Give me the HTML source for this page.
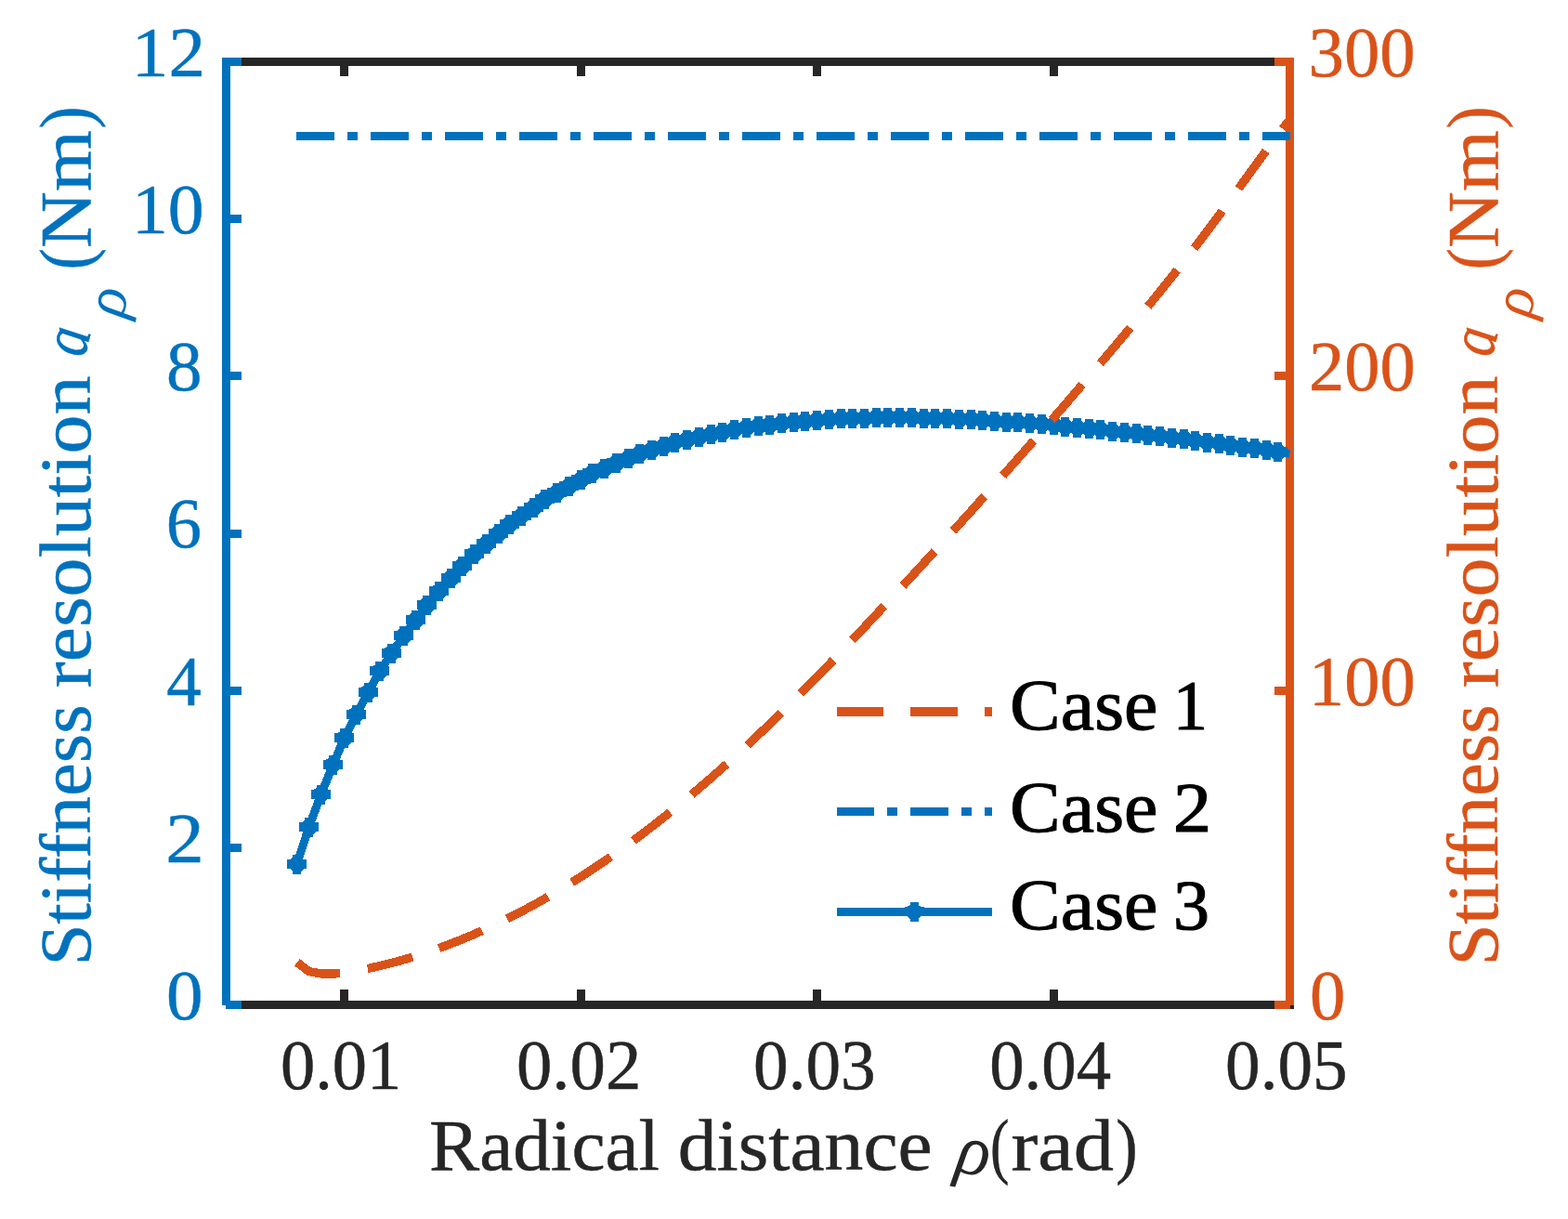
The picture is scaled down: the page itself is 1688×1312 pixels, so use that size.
<!DOCTYPE html>
<html lang="en"><head><meta charset="utf-8"><title>Stiffness resolution vs radical distance</title>
<style>html,body{margin:0;padding:0;background:#fff;}body{width:1688px;height:1312px;overflow:hidden;}svg{display:block;}text{font-family:"Liberation Serif","DejaVu Serif",serif;stroke-linejoin:round;}</style>
</head><body>
<svg width="1688" height="1312" viewBox="0 0 1688 1312">
<rect width="1688" height="1312" fill="#fff"/>
<g shape-rendering="crispEdges">
<rect x="248" y="62" width="1136" height="9" fill="#262626"/>
<rect x="248" y="1077" width="1141" height="9" fill="#262626"/>
<rect x="366" y="71" width="9" height="11" fill="#262626"/>
<rect x="366" y="1065" width="9" height="12" fill="#262626"/>
<rect x="621" y="71" width="9" height="11" fill="#262626"/>
<rect x="621" y="1065" width="9" height="12" fill="#262626"/>
<rect x="875" y="71" width="9" height="11" fill="#262626"/>
<rect x="875" y="1065" width="9" height="12" fill="#262626"/>
<rect x="1130" y="71" width="9" height="11" fill="#262626"/>
<rect x="1130" y="1065" width="9" height="12" fill="#262626"/>
<rect x="1384" y="62" width="9" height="1024" fill="#D95319"/>
<rect x="1372" y="1077" width="17" height="9" fill="#D95319"/>
<rect x="1372" y="739" width="17" height="9" fill="#D95319"/>
<rect x="1372" y="400" width="17" height="9" fill="#D95319"/>
<rect x="1372" y="62" width="17" height="9" fill="#D95319"/>
<rect x="1372" y="62" width="21" height="9" fill="#D95319"/>
<rect x="1389" y="1082" width="4" height="4" fill="#262626"/>
<rect x="239" y="62" width="9" height="1020" fill="#0072BD"/>
<rect x="243" y="1077" width="17" height="9" fill="#0072BD"/>
<rect x="243" y="908" width="17" height="9" fill="#0072BD"/>
<rect x="243" y="739" width="17" height="9" fill="#0072BD"/>
<rect x="243" y="570" width="17" height="9" fill="#0072BD"/>
<rect x="243" y="400" width="17" height="9" fill="#0072BD"/>
<rect x="243" y="231" width="17" height="9" fill="#0072BD"/>
<rect x="243" y="62" width="17" height="9" fill="#0072BD"/>
</g>
<defs><clipPath id="plotclip"><rect x="239" y="62" width="1150" height="1024"/></clipPath></defs>
<g clip-path="url(#plotclip)" shape-rendering="crispEdges">
<polyline fill="none" stroke="#0072BD" stroke-width="9" stroke-linejoin="round" points="319.5,930.5 332.5,890.5 345.5,855.2 358.5,823.2 370.5,794.7 383.5,769 396.5,745.3 408.5,722.9 421.5,703.3 434.5,684.5 447.5,667.6 459.5,651.6 472.5,636.8 485.5,622.6 497.5,609.5 510.5,596.7 523.5,585.5 536.5,574.5 548.5,564.6 561.5,555.4 574.5,546.6 586.5,537.6 599.5,530.5 612.5,523.6 625.5,516.6 637.5,509.5 650.5,504.5 663.5,498.5 676.5,493.5 688.5,488.6 701.5,484.5 714.5,480.5 726.5,476.4 739.5,473.5 752.5,470.5 765.5,467.5 777.5,465.5 790.5,462.6 803.5,460.5 816.5,458.5 828.5,457.6 841.5,455.6 854.5,454.5 866.5,453.6 879.5,452.6 892.5,451.5 905.5,450.6 917.5,450.5 930.5,450.5 943.5,449.5 955.5,449.5 968.5,449.5 981.5,449.5 994.5,450.5 1006.5,450.5 1019.5,450.5 1032.5,451.5 1045.5,451.5 1057.5,452.5 1070.5,453.5 1083.5,454.5 1095.5,454.5 1108.5,455.5 1121.5,456.5 1134.5,457.5 1146.5,459.5 1159.5,460.5 1172.5,461.5 1184.5,462.5 1197.5,464.5 1210.5,465.5 1223.5,466.5 1235.5,468.5 1248.5,469.5 1261.5,471.5 1274.5,472.5 1286.5,474.4 1299.5,476.4 1312.5,477.5 1324.5,479.5 1337.5,481.5 1350.5,482.5 1363.5,484.5 1375.5,486.6 1388.5,488.3"/>
<path fill="#0072BD" d="M315,920 L324,920 L324,923 L327,925 L330,925 L330,935 L327,935 L324,938 L324,941 L315,941 L315,938 L312,935 L309,935 L309,925 L312,925 L315,923Z M328,880 L337,880 L337,883 L340,885 L343,885 L343,895 L340,895 L337,898 L337,901 L328,901 L328,898 L325,895 L322,895 L322,885 L325,885 L328,883Z M341,844.7 L350,844.7 L350,847.7 L353,849.7 L356,849.7 L356,859.7 L353,859.7 L350,862.7 L350,865.7 L341,865.7 L341,862.7 L338,859.7 L335,859.7 L335,849.7 L338,849.7 L341,847.7Z M354,812.7 L363,812.7 L363,815.7 L366,817.7 L369,817.7 L369,827.7 L366,827.7 L363,830.7 L363,833.7 L354,833.7 L354,830.7 L351,827.7 L348,827.7 L348,817.7 L351,817.7 L354,815.7Z M366,784.2 L375,784.2 L375,787.2 L378,789.2 L381,789.2 L381,799.2 L378,799.2 L375,802.2 L375,805.2 L366,805.2 L366,802.2 L363,799.2 L360,799.2 L360,789.2 L363,789.2 L366,787.2Z M379,758.5 L388,758.5 L388,761.5 L391,763.5 L394,763.5 L394,773.5 L391,773.5 L388,776.5 L388,779.5 L379,779.5 L379,776.5 L376,773.5 L373,773.5 L373,763.5 L376,763.5 L379,761.5Z M392,734.8 L401,734.8 L401,737.8 L404,739.8 L407,739.8 L407,749.8 L404,749.8 L401,752.8 L401,755.8 L392,755.8 L392,752.8 L389,749.8 L386,749.8 L386,739.8 L389,739.8 L392,737.8Z M404,712.4 L413,712.4 L413,715.4 L416,717.4 L419,717.4 L419,727.4 L416,727.4 L413,730.4 L413,733.4 L404,733.4 L404,730.4 L401,727.4 L398,727.4 L398,717.4 L401,717.4 L404,715.4Z M417,692.8 L426,692.8 L426,695.8 L429,697.8 L432,697.8 L432,707.8 L429,707.8 L426,710.8 L426,713.8 L417,713.8 L417,710.8 L414,707.8 L411,707.8 L411,697.8 L414,697.8 L417,695.8Z M430,674 L439,674 L439,677 L442,679 L445,679 L445,689 L442,689 L439,692 L439,695 L430,695 L430,692 L427,689 L424,689 L424,679 L427,679 L430,677Z M443,657.1 L452,657.1 L452,660.1 L455,662.1 L458,662.1 L458,672.1 L455,672.1 L452,675.1 L452,678.1 L443,678.1 L443,675.1 L440,672.1 L437,672.1 L437,662.1 L440,662.1 L443,660.1Z M455,641.1 L464,641.1 L464,644.1 L467,646.1 L470,646.1 L470,656.1 L467,656.1 L464,659.1 L464,662.1 L455,662.1 L455,659.1 L452,656.1 L449,656.1 L449,646.1 L452,646.1 L455,644.1Z M468,626.3 L477,626.3 L477,629.3 L480,631.3 L483,631.3 L483,641.3 L480,641.3 L477,644.3 L477,647.3 L468,647.3 L468,644.3 L465,641.3 L462,641.3 L462,631.3 L465,631.3 L468,629.3Z M481,612.1 L490,612.1 L490,615.1 L493,617.1 L496,617.1 L496,627.1 L493,627.1 L490,630.1 L490,633.1 L481,633.1 L481,630.1 L478,627.1 L475,627.1 L475,617.1 L478,617.1 L481,615.1Z M493,599 L502,599 L502,602 L505,604 L508,604 L508,614 L505,614 L502,617 L502,620 L493,620 L493,617 L490,614 L487,614 L487,604 L490,604 L493,602Z M506,586.2 L515,586.2 L515,589.2 L518,591.2 L521,591.2 L521,601.2 L518,601.2 L515,604.2 L515,607.2 L506,607.2 L506,604.2 L503,601.2 L500,601.2 L500,591.2 L503,591.2 L506,589.2Z M519,575 L528,575 L528,578 L531,580 L534,580 L534,590 L531,590 L528,593 L528,596 L519,596 L519,593 L516,590 L513,590 L513,580 L516,580 L519,578Z M532,564 L541,564 L541,567 L544,569 L547,569 L547,579 L544,579 L541,582 L541,585 L532,585 L532,582 L529,579 L526,579 L526,569 L529,569 L532,567Z M544,554.1 L553,554.1 L553,557.1 L556,559.1 L559,559.1 L559,569.1 L556,569.1 L553,572.1 L553,575.1 L544,575.1 L544,572.1 L541,569.1 L538,569.1 L538,559.1 L541,559.1 L544,557.1Z M557,544.9 L566,544.9 L566,547.9 L569,549.9 L572,549.9 L572,559.9 L569,559.9 L566,562.9 L566,565.9 L557,565.9 L557,562.9 L554,559.9 L551,559.9 L551,549.9 L554,549.9 L557,547.9Z M570,536.1 L579,536.1 L579,539.1 L582,541.1 L585,541.1 L585,551.1 L582,551.1 L579,554.1 L579,557.1 L570,557.1 L570,554.1 L567,551.1 L564,551.1 L564,541.1 L567,541.1 L570,539.1Z M582,527.1 L591,527.1 L591,530.1 L594,532.1 L597,532.1 L597,542.1 L594,542.1 L591,545.1 L591,548.1 L582,548.1 L582,545.1 L579,542.1 L576,542.1 L576,532.1 L579,532.1 L582,530.1Z M595,520 L604,520 L604,523 L607,525 L610,525 L610,535 L607,535 L604,538 L604,541 L595,541 L595,538 L592,535 L589,535 L589,525 L592,525 L595,523Z M608,513.1 L617,513.1 L617,516.1 L620,518.1 L623,518.1 L623,528.1 L620,528.1 L617,531.1 L617,534.1 L608,534.1 L608,531.1 L605,528.1 L602,528.1 L602,518.1 L605,518.1 L608,516.1Z M621,506.1 L630,506.1 L630,509.1 L633,511.1 L636,511.1 L636,521.1 L633,521.1 L630,524.1 L630,527.1 L621,527.1 L621,524.1 L618,521.1 L615,521.1 L615,511.1 L618,511.1 L621,509.1Z M633,499 L642,499 L642,502 L645,504 L648,504 L648,514 L645,514 L642,517 L642,520 L633,520 L633,517 L630,514 L627,514 L627,504 L630,504 L633,502Z M646,494 L655,494 L655,497 L658,499 L661,499 L661,509 L658,509 L655,512 L655,515 L646,515 L646,512 L643,509 L640,509 L640,499 L643,499 L646,497Z M659,488 L668,488 L668,491 L671,493 L674,493 L674,503 L671,503 L668,506 L668,509 L659,509 L659,506 L656,503 L653,503 L653,493 L656,493 L659,491Z M672,483 L681,483 L681,486 L684,488 L687,488 L687,498 L684,498 L681,501 L681,504 L672,504 L672,501 L669,498 L666,498 L666,488 L669,488 L672,486Z M684,478.1 L693,478.1 L693,481.1 L696,483.1 L699,483.1 L699,493.1 L696,493.1 L693,496.1 L693,499.1 L684,499.1 L684,496.1 L681,493.1 L678,493.1 L678,483.1 L681,483.1 L684,481.1Z M697,474 L706,474 L706,477 L709,479 L712,479 L712,489 L709,489 L706,492 L706,495 L697,495 L697,492 L694,489 L691,489 L691,479 L694,479 L697,477Z M710,470 L719,470 L719,473 L722,475 L725,475 L725,485 L722,485 L719,488 L719,491 L710,491 L710,488 L707,485 L704,485 L704,475 L707,475 L710,473Z M722,465.9 L731,465.9 L731,468.9 L734,470.9 L737,470.9 L737,480.9 L734,480.9 L731,483.9 L731,486.9 L722,486.9 L722,483.9 L719,480.9 L716,480.9 L716,470.9 L719,470.9 L722,468.9Z M735,463 L744,463 L744,466 L747,468 L750,468 L750,478 L747,478 L744,481 L744,484 L735,484 L735,481 L732,478 L729,478 L729,468 L732,468 L735,466Z M748,460 L757,460 L757,463 L760,465 L763,465 L763,475 L760,475 L757,478 L757,481 L748,481 L748,478 L745,475 L742,475 L742,465 L745,465 L748,463Z M761,457 L770,457 L770,460 L773,462 L776,462 L776,472 L773,472 L770,475 L770,478 L761,478 L761,475 L758,472 L755,472 L755,462 L758,462 L761,460Z M773,455 L782,455 L782,458 L785,460 L788,460 L788,470 L785,470 L782,473 L782,476 L773,476 L773,473 L770,470 L767,470 L767,460 L770,460 L773,458Z M786,452.1 L795,452.1 L795,455.1 L798,457.1 L801,457.1 L801,467.1 L798,467.1 L795,470.1 L795,473.1 L786,473.1 L786,470.1 L783,467.1 L780,467.1 L780,457.1 L783,457.1 L786,455.1Z M799,450 L808,450 L808,453 L811,455 L814,455 L814,465 L811,465 L808,468 L808,471 L799,471 L799,468 L796,465 L793,465 L793,455 L796,455 L799,453Z M812,448 L821,448 L821,451 L824,453 L827,453 L827,463 L824,463 L821,466 L821,469 L812,469 L812,466 L809,463 L806,463 L806,453 L809,453 L812,451Z M824,447.1 L833,447.1 L833,450.1 L836,452.1 L839,452.1 L839,462.1 L836,462.1 L833,465.1 L833,468.1 L824,468.1 L824,465.1 L821,462.1 L818,462.1 L818,452.1 L821,452.1 L824,450.1Z M837,445.1 L846,445.1 L846,448.1 L849,450.1 L852,450.1 L852,460.1 L849,460.1 L846,463.1 L846,466.1 L837,466.1 L837,463.1 L834,460.1 L831,460.1 L831,450.1 L834,450.1 L837,448.1Z M850,444 L859,444 L859,447 L862,449 L865,449 L865,459 L862,459 L859,462 L859,465 L850,465 L850,462 L847,459 L844,459 L844,449 L847,449 L850,447Z M862,443.1 L871,443.1 L871,446.1 L874,448.1 L877,448.1 L877,458.1 L874,458.1 L871,461.1 L871,464.1 L862,464.1 L862,461.1 L859,458.1 L856,458.1 L856,448.1 L859,448.1 L862,446.1Z M875,442.1 L884,442.1 L884,445.1 L887,447.1 L890,447.1 L890,457.1 L887,457.1 L884,460.1 L884,463.1 L875,463.1 L875,460.1 L872,457.1 L869,457.1 L869,447.1 L872,447.1 L875,445.1Z M888,441 L897,441 L897,444 L900,446 L903,446 L903,456 L900,456 L897,459 L897,462 L888,462 L888,459 L885,456 L882,456 L882,446 L885,446 L888,444Z M901,440.1 L910,440.1 L910,443.1 L913,445.1 L916,445.1 L916,455.1 L913,455.1 L910,458.1 L910,461.1 L901,461.1 L901,458.1 L898,455.1 L895,455.1 L895,445.1 L898,445.1 L901,443.1Z M913,440 L922,440 L922,443 L925,445 L928,445 L928,455 L925,455 L922,458 L922,461 L913,461 L913,458 L910,455 L907,455 L907,445 L910,445 L913,443Z M926,440 L935,440 L935,443 L938,445 L941,445 L941,455 L938,455 L935,458 L935,461 L926,461 L926,458 L923,455 L920,455 L920,445 L923,445 L926,443Z M939,439 L948,439 L948,442 L951,444 L954,444 L954,454 L951,454 L948,457 L948,460 L939,460 L939,457 L936,454 L933,454 L933,444 L936,444 L939,442Z M951,439 L960,439 L960,442 L963,444 L966,444 L966,454 L963,454 L960,457 L960,460 L951,460 L951,457 L948,454 L945,454 L945,444 L948,444 L951,442Z M964,439 L973,439 L973,442 L976,444 L979,444 L979,454 L976,454 L973,457 L973,460 L964,460 L964,457 L961,454 L958,454 L958,444 L961,444 L964,442Z M977,439 L986,439 L986,442 L989,444 L992,444 L992,454 L989,454 L986,457 L986,460 L977,460 L977,457 L974,454 L971,454 L971,444 L974,444 L977,442Z M990,440 L999,440 L999,443 L1002,445 L1005,445 L1005,455 L1002,455 L999,458 L999,461 L990,461 L990,458 L987,455 L984,455 L984,445 L987,445 L990,443Z M1002,440 L1011,440 L1011,443 L1014,445 L1017,445 L1017,455 L1014,455 L1011,458 L1011,461 L1002,461 L1002,458 L999,455 L996,455 L996,445 L999,445 L1002,443Z M1015,440 L1024,440 L1024,443 L1027,445 L1030,445 L1030,455 L1027,455 L1024,458 L1024,461 L1015,461 L1015,458 L1012,455 L1009,455 L1009,445 L1012,445 L1015,443Z M1028,441 L1037,441 L1037,444 L1040,446 L1043,446 L1043,456 L1040,456 L1037,459 L1037,462 L1028,462 L1028,459 L1025,456 L1022,456 L1022,446 L1025,446 L1028,444Z M1041,441 L1050,441 L1050,444 L1053,446 L1056,446 L1056,456 L1053,456 L1050,459 L1050,462 L1041,462 L1041,459 L1038,456 L1035,456 L1035,446 L1038,446 L1041,444Z M1053,442 L1062,442 L1062,445 L1065,447 L1068,447 L1068,457 L1065,457 L1062,460 L1062,463 L1053,463 L1053,460 L1050,457 L1047,457 L1047,447 L1050,447 L1053,445Z M1066,443 L1075,443 L1075,446 L1078,448 L1081,448 L1081,458 L1078,458 L1075,461 L1075,464 L1066,464 L1066,461 L1063,458 L1060,458 L1060,448 L1063,448 L1066,446Z M1079,444 L1088,444 L1088,447 L1091,449 L1094,449 L1094,459 L1091,459 L1088,462 L1088,465 L1079,465 L1079,462 L1076,459 L1073,459 L1073,449 L1076,449 L1079,447Z M1091,444 L1100,444 L1100,447 L1103,449 L1106,449 L1106,459 L1103,459 L1100,462 L1100,465 L1091,465 L1091,462 L1088,459 L1085,459 L1085,449 L1088,449 L1091,447Z M1104,445 L1113,445 L1113,448 L1116,450 L1119,450 L1119,460 L1116,460 L1113,463 L1113,466 L1104,466 L1104,463 L1101,460 L1098,460 L1098,450 L1101,450 L1104,448Z M1117,446 L1126,446 L1126,449 L1129,451 L1132,451 L1132,461 L1129,461 L1126,464 L1126,467 L1117,467 L1117,464 L1114,461 L1111,461 L1111,451 L1114,451 L1117,449Z M1130,447 L1139,447 L1139,450 L1142,452 L1145,452 L1145,462 L1142,462 L1139,465 L1139,468 L1130,468 L1130,465 L1127,462 L1124,462 L1124,452 L1127,452 L1130,450Z M1142,449 L1151,449 L1151,452 L1154,454 L1157,454 L1157,464 L1154,464 L1151,467 L1151,470 L1142,470 L1142,467 L1139,464 L1136,464 L1136,454 L1139,454 L1142,452Z M1155,450 L1164,450 L1164,453 L1167,455 L1170,455 L1170,465 L1167,465 L1164,468 L1164,471 L1155,471 L1155,468 L1152,465 L1149,465 L1149,455 L1152,455 L1155,453Z M1168,451 L1177,451 L1177,454 L1180,456 L1183,456 L1183,466 L1180,466 L1177,469 L1177,472 L1168,472 L1168,469 L1165,466 L1162,466 L1162,456 L1165,456 L1168,454Z M1180,452 L1189,452 L1189,455 L1192,457 L1195,457 L1195,467 L1192,467 L1189,470 L1189,473 L1180,473 L1180,470 L1177,467 L1174,467 L1174,457 L1177,457 L1180,455Z M1193,454 L1202,454 L1202,457 L1205,459 L1208,459 L1208,469 L1205,469 L1202,472 L1202,475 L1193,475 L1193,472 L1190,469 L1187,469 L1187,459 L1190,459 L1193,457Z M1206,455 L1215,455 L1215,458 L1218,460 L1221,460 L1221,470 L1218,470 L1215,473 L1215,476 L1206,476 L1206,473 L1203,470 L1200,470 L1200,460 L1203,460 L1206,458Z M1219,456 L1228,456 L1228,459 L1231,461 L1234,461 L1234,471 L1231,471 L1228,474 L1228,477 L1219,477 L1219,474 L1216,471 L1213,471 L1213,461 L1216,461 L1219,459Z M1231,458 L1240,458 L1240,461 L1243,463 L1246,463 L1246,473 L1243,473 L1240,476 L1240,479 L1231,479 L1231,476 L1228,473 L1225,473 L1225,463 L1228,463 L1231,461Z M1244,459 L1253,459 L1253,462 L1256,464 L1259,464 L1259,474 L1256,474 L1253,477 L1253,480 L1244,480 L1244,477 L1241,474 L1238,474 L1238,464 L1241,464 L1244,462Z M1257,461 L1266,461 L1266,464 L1269,466 L1272,466 L1272,476 L1269,476 L1266,479 L1266,482 L1257,482 L1257,479 L1254,476 L1251,476 L1251,466 L1254,466 L1257,464Z M1270,462 L1279,462 L1279,465 L1282,467 L1285,467 L1285,477 L1282,477 L1279,480 L1279,483 L1270,483 L1270,480 L1267,477 L1264,477 L1264,467 L1267,467 L1270,465Z M1282,463.9 L1291,463.9 L1291,466.9 L1294,468.9 L1297,468.9 L1297,478.9 L1294,478.9 L1291,481.9 L1291,484.9 L1282,484.9 L1282,481.9 L1279,478.9 L1276,478.9 L1276,468.9 L1279,468.9 L1282,466.9Z M1295,465.9 L1304,465.9 L1304,468.9 L1307,470.9 L1310,470.9 L1310,480.9 L1307,480.9 L1304,483.9 L1304,486.9 L1295,486.9 L1295,483.9 L1292,480.9 L1289,480.9 L1289,470.9 L1292,470.9 L1295,468.9Z M1308,467 L1317,467 L1317,470 L1320,472 L1323,472 L1323,482 L1320,482 L1317,485 L1317,488 L1308,488 L1308,485 L1305,482 L1302,482 L1302,472 L1305,472 L1308,470Z M1320,469 L1329,469 L1329,472 L1332,474 L1335,474 L1335,484 L1332,484 L1329,487 L1329,490 L1320,490 L1320,487 L1317,484 L1314,484 L1314,474 L1317,474 L1320,472Z M1333,471 L1342,471 L1342,474 L1345,476 L1348,476 L1348,486 L1345,486 L1342,489 L1342,492 L1333,492 L1333,489 L1330,486 L1327,486 L1327,476 L1330,476 L1333,474Z M1346,472 L1355,472 L1355,475 L1358,477 L1361,477 L1361,487 L1358,487 L1355,490 L1355,493 L1346,493 L1346,490 L1343,487 L1340,487 L1340,477 L1343,477 L1346,475Z M1359,474 L1368,474 L1368,477 L1371,479 L1374,479 L1374,489 L1371,489 L1368,492 L1368,495 L1359,495 L1359,492 L1356,489 L1353,489 L1353,479 L1356,479 L1359,477Z M1371,476.1 L1380,476.1 L1380,479.1 L1383,481.1 L1386,481.1 L1386,491.1 L1383,491.1 L1380,494.1 L1380,497.1 L1371,497.1 L1371,494.1 L1368,491.1 L1365,491.1 L1365,481.1 L1368,481.1 L1371,479.1Z"/>
<line x1="319" y1="146.5" x2="1389" y2="146.5" stroke="#0072BD" stroke-width="9" stroke-dasharray="41 14 11 14"/>
</g>
<g clip-path="url(#plotclip)" shape-rendering="crispEdges">
<polyline fill="none" stroke="#D95319" stroke-width="9.3" stroke-linejoin="round" stroke-dasharray="50 30" points="319.83,1035.7 332.56,1045.6 345.28,1047.9 358,1048.1 370.72,1047.4 383.44,1044.95 396.17,1042.43 408.89,1039.58 421.61,1036.41 434.33,1032.92 447.06,1029.11 459.78,1024.99 472.5,1020.56 485.22,1015.81 497.94,1010.76 510.67,1005.4 523.39,999.74 536.11,993.78 548.83,987.52 561.56,980.96 574.28,974.1 587,966.96 599.72,959.52 612.44,951.8 625.17,943.79 637.89,935.5 650.61,926.93 663.33,918.07 676.06,908.95 688.78,899.55 701.5,889.87 714.22,879.94 726.94,869.74 739.67,859.28 752.39,848.56 765.11,837.6 777.83,826.39 790.56,814.94 803.28,803.26 816,791.34 828.72,779.19 841.44,766.82 854.17,754.23 866.89,741.44 879.61,728.46 892.33,715.33 905.06,702.05 917.78,688.65 930.5,675.14 943.22,661.54 955.94,647.88 968.67,634.16 981.39,620.38 994.11,606.55 1006.83,592.65 1019.56,578.7 1032.28,564.68 1045,550.59 1057.72,536.43 1070.44,522.21 1083.17,507.91 1095.89,493.54 1108.61,479.09 1121.33,464.56 1134.06,449.96 1146.78,435.27 1159.5,420.5 1172.22,405.64 1184.94,390.69 1197.67,375.66 1210.39,360.5 1223.11,345.21 1235.83,329.74 1248.56,314.09 1261.28,298.21 1274,282.09 1286.72,265.7 1299.44,249.02 1312.17,232.01 1324.89,214.67 1337.61,197.11 1350.33,179.54 1363.06,162.15 1375.78,145.14 1388.5,128.73"/>
</g>
<g shape-rendering="crispEdges">
<rect x="901" y="761" width="50" height="10" fill="#D95319"/>
<rect x="980" y="761" width="51" height="10" fill="#D95319"/>
<rect x="1060" y="761" width="8" height="10" fill="#D95319"/>
<rect x="901" y="869" width="40" height="9" fill="#0072BD"/>
<rect x="955" y="869" width="11" height="9" fill="#0072BD"/>
<rect x="980" y="869" width="41" height="9" fill="#0072BD"/>
<rect x="1035" y="869" width="11" height="9" fill="#0072BD"/>
<rect x="1060" y="869" width="8" height="9" fill="#0072BD"/>
<rect x="901" y="977" width="167" height="9" fill="#0072BD"/>
<path fill="#0072BD" d="M979.5,971 L988.5,971 L988.5,974 L991.5,976 L994.5,976 L994.5,986 L991.5,986 L988.5,989 L988.5,992 L979.5,992 L979.5,989 L976.5,986 L973.5,986 L973.5,976 L976.5,976 L979.5,974Z"/>
</g>
<text font-size="77.3" fill="#262626" stroke="#262626" stroke-width="0.5"><tspan x="301.99" y="1172.4" textLength="130.39" lengthAdjust="spacingAndGlyphs" font-size="76.5">0.01</tspan></text>
<text font-size="77.3" fill="#262626" stroke="#262626" stroke-width="0.5"><tspan x="555.91" y="1172.4" textLength="134.42" lengthAdjust="spacingAndGlyphs" font-size="76.5">0.02</tspan></text>
<text font-size="77.3" fill="#262626" stroke="#262626" stroke-width="0.5"><tspan x="811.07" y="1172.4" textLength="131.67" lengthAdjust="spacingAndGlyphs" font-size="76.5">0.03</tspan></text>
<text font-size="77.3" fill="#262626" stroke="#262626" stroke-width="0.5"><tspan x="1065.18" y="1172.4" textLength="130.95" lengthAdjust="spacingAndGlyphs" font-size="76.5">0.04</tspan></text>
<text font-size="77.3" fill="#262626" stroke="#262626" stroke-width="0.5"><tspan x="1319.07" y="1172.4" textLength="131.67" lengthAdjust="spacingAndGlyphs" font-size="76.5">0.05</tspan></text>
<text font-size="77.3" fill="#0072BD" stroke="#0072BD" stroke-width="0.5"><tspan x="141.86" y="81.9" textLength="79.3" lengthAdjust="spacingAndGlyphs" font-size="76.5">12</tspan></text>
<text font-size="77.3" fill="#0072BD" stroke="#0072BD" stroke-width="0.5"><tspan x="141.99" y="251.07" textLength="77.73" lengthAdjust="spacingAndGlyphs" font-size="76.5">10</tspan></text>
<text font-size="77.3" fill="#0072BD" stroke="#0072BD" stroke-width="0.5"><tspan x="179.1" y="420.23" textLength="38.6" lengthAdjust="spacingAndGlyphs" font-size="76.5">8</tspan></text>
<text font-size="77.3" fill="#0072BD" stroke="#0072BD" stroke-width="0.5"><tspan x="178.73" y="589.4" textLength="38.38" lengthAdjust="spacingAndGlyphs" font-size="76.5">6</tspan></text>
<text font-size="77.3" fill="#0072BD" stroke="#0072BD" stroke-width="0.5"><tspan x="179.28" y="758.57" textLength="37.66" lengthAdjust="spacingAndGlyphs" font-size="76.5">4</tspan></text>
<text font-size="77.3" fill="#0072BD" stroke="#0072BD" stroke-width="0.5"><tspan x="178.28" y="927.73" textLength="41.47" lengthAdjust="spacingAndGlyphs" font-size="76.5">2</tspan></text>
<text font-size="77.3" fill="#0072BD" stroke="#0072BD" stroke-width="0.5"><tspan x="179.03" y="1096.9" textLength="39.53" lengthAdjust="spacingAndGlyphs" font-size="76.5">0</tspan></text>
<text font-size="77.3" fill="#D95319" stroke="#D95319" stroke-width="0.5"><tspan x="1408.55" y="81.9" textLength="115.14" lengthAdjust="spacingAndGlyphs" font-size="76.5">300</tspan></text>
<text font-size="77.3" fill="#D95319" stroke="#D95319" stroke-width="0.5"><tspan x="1408.94" y="420.23" textLength="114.74" lengthAdjust="spacingAndGlyphs" font-size="76.5">200</tspan></text>
<text font-size="77.3" fill="#D95319" stroke="#D95319" stroke-width="0.5"><tspan x="1409" y="758.57" textLength="114.67" lengthAdjust="spacingAndGlyphs" font-size="76.5">100</tspan></text>
<text font-size="77.3" fill="#D95319" stroke="#D95319" stroke-width="0.5"><tspan x="1410.11" y="1096.9" textLength="38.37" lengthAdjust="spacingAndGlyphs" font-size="76.5">0</tspan></text>
<text font-size="77.3" fill="#262626" stroke="#262626" stroke-width="0.5"><tspan x="462.07" y="1259.2" textLength="247.99" lengthAdjust="spacingAndGlyphs">Radical</tspan> <tspan x="729.68" y="1259.2" textLength="273.95" lengthAdjust="spacingAndGlyphs">distance</tspan> <tspan x="1026.97" y="1260.61" textLength="35.9" lengthAdjust="spacingAndGlyphs" font-size="78.12" rotate="10" font-style="italic" stroke="none">ρ</tspan><tspan x="1066.04" y="1259.2" textLength="20.48" lengthAdjust="spacingAndGlyphs">(</tspan><tspan x="1088.49" y="1259.2" textLength="110.42" lengthAdjust="spacingAndGlyphs">rad</tspan><tspan x="1201.19" y="1259.2" textLength="23.47" lengthAdjust="spacingAndGlyphs">)</tspan></text>
<text font-size="77.3" fill="#000" stroke="#000" stroke-width="0.5"><tspan x="1087.13" y="784.8" textLength="159.34" lengthAdjust="spacingAndGlyphs" stroke-width="1">Case</tspan> <tspan x="1262.84" y="784.8" textLength="37.28" lengthAdjust="spacingAndGlyphs" font-size="76.5" stroke-width="1.2">1</tspan></text>
<text font-size="77.3" fill="#000" stroke="#000" stroke-width="0.5"><tspan x="1087.13" y="894.5" textLength="159.34" lengthAdjust="spacingAndGlyphs" stroke-width="1">Case</tspan> <tspan x="1263.02" y="894.5" textLength="41.08" lengthAdjust="spacingAndGlyphs" font-size="76.5" stroke-width="1.2">2</tspan></text>
<text font-size="77.3" fill="#000" stroke="#000" stroke-width="0.5"><tspan x="1087.13" y="999.8" textLength="159.34" lengthAdjust="spacingAndGlyphs" stroke-width="1">Case</tspan> <tspan x="1263.08" y="999.8" textLength="38.95" lengthAdjust="spacingAndGlyphs" font-size="76.5" stroke-width="1.2">3</tspan></text>
<text transform="translate(96.5,0) rotate(-90)" font-size="77.3" fill="#0072BD" stroke="#0072BD" stroke-width="0.5"><tspan x="-1039.55" y="0" textLength="281.24" lengthAdjust="spacingAndGlyphs">Stiffness</tspan> <tspan x="-740.27" y="0" textLength="335.69" lengthAdjust="spacingAndGlyphs">resolution</tspan> <tspan x="-385.32" y="-5.69" textLength="29.7" lengthAdjust="spacingAndGlyphs" font-size="73.37" rotate="12" font-style="italic">a</tspan><tspan x="-343.02" y="36.27" textLength="30.57" lengthAdjust="spacingAndGlyphs" font-size="64.22" rotate="10" font-style="italic" stroke="none">ρ</tspan> <tspan x="-290.26" y="0" textLength="23" lengthAdjust="spacingAndGlyphs">(</tspan><tspan x="-267.22" y="0" textLength="127.08" lengthAdjust="spacingAndGlyphs">Nm</tspan><tspan x="-138.82" y="0" textLength="24.61" lengthAdjust="spacingAndGlyphs">)</tspan></text>
<text transform="translate(1611.5,0) rotate(-90)" font-size="77.3" fill="#D95319" stroke="#D95319" stroke-width="0.5"><tspan x="-1039.55" y="0" textLength="281.24" lengthAdjust="spacingAndGlyphs">Stiffness</tspan> <tspan x="-740.27" y="0" textLength="335.69" lengthAdjust="spacingAndGlyphs">resolution</tspan> <tspan x="-385.32" y="-5.69" textLength="29.7" lengthAdjust="spacingAndGlyphs" font-size="73.37" rotate="12" font-style="italic">a</tspan><tspan x="-343.02" y="36.27" textLength="30.57" lengthAdjust="spacingAndGlyphs" font-size="64.22" rotate="10" font-style="italic" stroke="none">ρ</tspan> <tspan x="-290.26" y="0" textLength="23" lengthAdjust="spacingAndGlyphs">(</tspan><tspan x="-267.22" y="0" textLength="127.08" lengthAdjust="spacingAndGlyphs">Nm</tspan><tspan x="-138.82" y="0" textLength="24.61" lengthAdjust="spacingAndGlyphs">)</tspan></text>
</svg>
</body></html>
